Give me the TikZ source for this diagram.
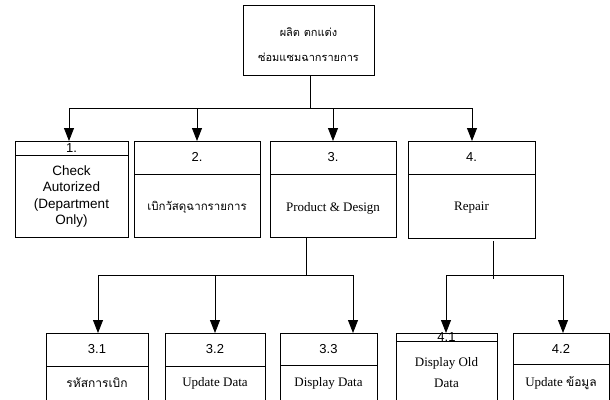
\documentclass[tikz,border=0pt]{standalone}
\usepackage{fontspec}
\setmainfont{Liberation Serif}
\setsansfont{Liberation Sans}
\newfontfamily\thaifont[Script=Thai]{Loma}
\usetikzlibrary{arrows.meta}
\begin{document}
\begin{tikzpicture}[x=1pt,y=-1pt,
  box/.style={draw,line width=0.8pt,anchor=north west,inner sep=0pt,outer sep=0pt},
  num/.style={font=\sffamily\fontsize{13}{15}\selectfont,inner sep=0pt},
  body/.style={font=\fontsize{13}{15}\selectfont,inner sep=0pt,align=center},
  thaibody/.style={font=\thaifont\fontsize{11.5}{15}\selectfont,inner sep=0pt,align=center},
  line/.style={line width=0.8pt},
  arr/.style={line width=0.8pt,-{Triangle[length=13pt,width=10pt]}}]
\useasboundingbox (0,0) rectangle (610,399);
\clip (0,0) rectangle (610,399);
% top box
\node[box,minimum width=131pt,minimum height=70pt] (top) at (243,5) {};
\node[font=\thaifont\fontsize{11}{25}\selectfont,align=center,inner sep=0pt] (toptxt) at (308.5,44.5) {ผลิต ตกแต่ง\\ซ่อมแซมฉากรายการ};
% level 2 boxes
\node[box,minimum width=113pt,minimum height=96pt] (b1) at (15,141) {};
\node[box,minimum width=126pt,minimum height=96pt] (b2) at (134,141) {};
\node[box,minimum width=126pt,minimum height=96pt] (b3) at (270,141) {};
\node[box,minimum width=127pt,minimum height=97pt] (b4) at (408,141) {};
\draw[line] (15,155) -- (128,155);
\draw[line] (134,174) -- (260,174);
\draw[line] (270,174) -- (396,174);
\draw[line] (408,174) -- (535,174);
\node[num] (n1) at (71.5,148) {1.};
\node[font=\sffamily\fontsize{13.5}{16.5}\selectfont,align=center,inner sep=0pt] (t1) at (71.5,196.5) {Check\\Autorized\\(Department\\Only)};
\node[num] (n2) at (197,157) {2.};
\node[thaibody] (t2) at (197,207) {เบิกวัสดุฉากรายการ};
\node[num] (n3) at (333,157) {3.};
\node[body] (t3) at (333,208) {Product \& Design};
\node[num] (n4) at (471.5,157) {4.};
\node[body] (t4) at (471.5,208) {Repair};
% level 3 boxes
\node[box,minimum width=102pt,minimum height=80pt] (b31) at (46,333) {};
\node[box,minimum width=100pt,minimum height=80pt] (b32) at (165,333) {};
\node[box,minimum width=97pt,minimum height=80pt] (b33) at (280,333) {};
\node[box,minimum width=101pt,minimum height=80pt] (b41) at (396,333) {};
\node[box,minimum width=96pt,minimum height=80pt] (b42) at (513,333) {};
\draw[line] (46,366) -- (148,366);
\draw[line] (165,366) -- (265,366);
\draw[line] (280,365) -- (377,365);
\draw[line] (396,341) -- (497,341);
\draw[line] (513,364) -- (609,364);
\node[num] (n31) at (97,349) {3.1};
\node[thaibody,font=\thaifont\fontsize{12}{15}\selectfont] (t31) at (97,383) {รหัสการเบิก};
\node[num] (n32) at (215,349) {3.2};
\node[body] (t32) at (215,383) {Update Data};
\node[num] (n33) at (328.5,349) {3.3};
\node[body] (t33) at (328.5,383) {Display Data};
\node[num] (n41) at (446.5,337) {4.1};
\node[body,font=\fontsize{13}{21}\selectfont] (t41) at (446.5,372.5) {Display Old\\Data};
\node[num] (n42) at (561,349) {4.2};
\node[body] (t42) at (561,383) {Update {\thaifont\fontsize{12}{15}\selectfont ข้อมูล}};
% connectors top level
\coordinate (j0) at (310,108);
\coordinate (s1) at (69,108);
\coordinate (s2) at (197,108);
\coordinate (s3) at (333,108);
\coordinate (s4) at (472,108);
\draw[line] (top.south -| j0) -- (j0);
\draw[line] (s1) -- (s4);
\draw[arr] (s1) -- (s1 |- b1.north);
\draw[arr] (s2) -- (s2 |- b2.north);
\draw[arr] (s3) -- (s3 |- b3.north);
\draw[arr] (s4) -- (s4 |- b4.north);
% connectors under 3
\coordinate (j3) at (306,275);
\coordinate (c31) at (98,275);
\coordinate (c32) at (215,275);
\coordinate (c33) at (353,275);
\draw[line] (b3.south -| j3) -- (j3);
\draw[line] (c31) -- (c33);
\draw[arr] (c31) -- (c31 |- b31.north);
\draw[arr] (c32) -- (c32 |- b32.north);
\draw[arr] (c33) -- (c33 |- b33.north);
% connectors under 4
\coordinate (j4a) at (493,241);
\coordinate (j4b) at (493,279);
\coordinate (c41) at (446,275);
\coordinate (c42) at (563,275);
\draw[line] (j4a) -- (j4b);
\draw[line] (c41) -- (c42);
\draw[arr] (c41) -- (c41 |- b41.north);
\draw[arr] (c42) -- (c42 |- b42.north);
\end{tikzpicture}
\end{document}
